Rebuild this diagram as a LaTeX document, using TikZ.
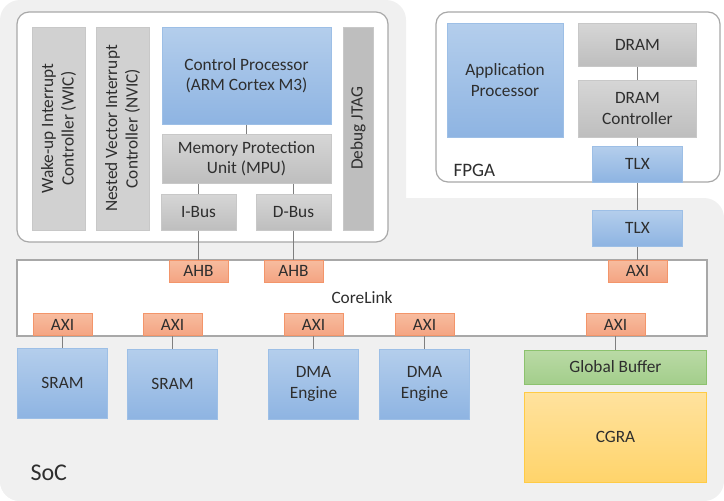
\documentclass[tikz,border=0pt]{standalone}
\usepackage{fontspec}
\setmainfont{Carlito}
\definecolor{socgrey}{HTML}{F0F0F0}
\definecolor{framegrey}{HTML}{A8A8A8}
\definecolor{linegrey}{HTML}{7F7F7F}
\definecolor{txt}{HTML}{2E2E2E}
\definecolor{bluetop}{HTML}{B4CEEC}
\definecolor{bluebot}{HTML}{8EB4E2}
\definecolor{blueline}{HTML}{9DBFE6}
\definecolor{greytop}{HTML}{D6D6D6}
\definecolor{greybot}{HTML}{BEBEBE}
\definecolor{greyline}{HTML}{C8C8C8}
\definecolor{orangetop}{HTML}{F7BC9F}
\definecolor{orangebot}{HTML}{F4A482}
\definecolor{orangeline}{HTML}{F3956A}
\definecolor{greentop}{HTML}{BADAA6}
\definecolor{greenbot}{HTML}{A3CE8B}
\definecolor{greenline}{HTML}{8CC26E}
\definecolor{yellowtop}{HTML}{FFE29E}
\definecolor{yellowbot}{HTML}{FFD46B}
\definecolor{yellowline}{HTML}{FFCB45}

\begin{document}
\begin{tikzpicture}[x=1pt,y=-1pt,
    box/.style={rectangle, line width=1pt, inner sep=2pt, align=center,
      text=txt, font=\fontsize{17.3}{20.5}\selectfont},
    bluebox/.style={box, draw=blueline, top color=bluetop, bottom color=bluebot},
    greybox/.style={box, draw=greyline, top color=greytop, bottom color=greybot},
    sidebox/.style={box, draw=greyline, fill=#1, rotate=90},
    busbox/.style={box, draw=orangeline, top color=orangetop, bottom color=orangebot,
      minimum width=59pt, minimum height=22pt, inner sep=0pt},
    frame/.style={rectangle, draw=framegrey, fill=white, line width=1.2pt, rounded corners=12pt},
    link/.style={draw=linegrey, line width=1.5pt}]
  \useasboundingbox (0,0) rectangle (724,501);
  % SoC area
  \fill[socgrey, rounded corners=20pt] (0,0) rectangle (406,501);
  \fill[socgrey, rounded corners=20pt] (0,198) rectangle (724,501);
  \node[anchor=base west, text=txt, font=\fontsize{24}{28}\selectfont] (soc) at (27,480) {SoC};

  % processor subsystem
  \node[frame, minimum width=371pt, minimum height=230pt] (cpu) at (202.5,127) {};
  \node[sidebox=greytop!80!greybot, minimum width=203pt, minimum height=53pt] (wic) at (58.5,128.5)
    {Wake-up Interrupt\\Controller (WIC)};
  \node[sidebox=greytop!80!greybot, minimum width=203pt, minimum height=53pt] (nvic) at (122.5,128.5)
    {Nested Vector Interrupt\\Controller (NVIC)};
  \node[sidebox=greybot, minimum width=203pt, minimum height=30pt] (jtag) at (358,128.5)
    {Debug JTAG};
  \node[bluebox, minimum width=169pt, minimum height=97pt] (cp) at (246.5,75.5)
    {Control Processor\\(ARM Cortex M3)};
  \node[greybox, minimum width=169pt, minimum height=49pt] (mpu) at (246.5,158.5)
    {Memory Protection\\Unit (MPU)};
  \node[greybox, minimum width=75pt, minimum height=36pt] (ibus) at (198.5,212) {I-Bus};
  \node[greybox, minimum width=75pt, minimum height=36pt] (dbus) at (293.5,212) {D-Bus};

  % FPGA
  \node[frame, minimum width=284pt, minimum height=170pt] (fpga) at (578,97) {};
  \node[anchor=base west, text=txt, font=\fontsize{19}{23}\selectfont] (fpgalabel) at (450,176) {FPGA};
  \node[bluebox, minimum width=116pt, minimum height=114pt] (app) at (505,80)
    {Application\\Processor};
  \node[greybox, minimum width=118pt, minimum height=43pt] (dram) at (637.5,44.5) {DRAM};
  \node[greybox, minimum width=118pt, minimum height=57pt] (dramctl) at (637.5,108.5)
    {DRAM\\Controller};
  \node[bluebox, minimum width=90pt, minimum height=36pt] (tlxa) at (637.5,164) {TLX};
  \node[bluebox, minimum width=90pt, minimum height=36pt] (tlxb) at (637.5,228) {TLX};

  % interconnect
  \node[rectangle, draw=framegrey, fill=white, line width=1.2pt, minimum width=690pt,
    minimum height=76pt, text=txt, font=\fontsize{17.3}{20.5}\selectfont] (corelink) at (362,298) {CoreLink};
  \node[busbox] (ahbi) at (198.5,271) {AHB};
  \node[busbox] (ahbd) at (293.5,271) {AHB};
  \node[busbox] (axitlx) at (637.5,271) {AXI};
  \node[busbox] (axia) at (62.5,324.5) {AXI};
  \node[busbox] (axib) at (172.5,324.5) {AXI};
  \node[busbox] (axic) at (313.5,324.5) {AXI};
  \node[busbox] (axid) at (424.5,324.5) {AXI};
  \node[busbox] (axie) at (615.5,324.5) {AXI};

  % memories and engines
  \node[bluebox, minimum width=90pt, minimum height=70pt] (srama) at (62.5,383) {SRAM};
  \node[bluebox, minimum width=90pt, minimum height=70pt] (sramb) at (172.5,384) {SRAM};
  \node[bluebox, minimum width=90pt, minimum height=70pt] (dmaa) at (313.5,384) {DMA\\Engine};
  \node[bluebox, minimum width=90pt, minimum height=70pt] (dmab) at (424.5,384) {DMA\\Engine};
  \node[box, draw=greenline, top color=greentop, bottom color=greenbot,
    minimum width=182pt, minimum height=34pt] (gbuf) at (615.5,367) {Global Buffer};
  \node[box, draw=yellowline, top color=yellowtop, bottom color=yellowbot,
    minimum width=182pt, minimum height=90pt] (cgra) at (615.5,437) {CGRA};

  % connections
  \draw[link] (cp) -- (mpu);
  \draw[link] (mpu.south -| ibus) -- (ibus);
  \draw[link] (mpu.south -| dbus) -- (dbus);
  \draw[link] (ibus) -- (ahbi);
  \draw[link] (dbus) -- (ahbd);
  \draw[link] (dram) -- (dramctl);
  \draw[link] (dramctl) -- (tlxa);
  \draw[link] (tlxa) -- (tlxb);
  \draw[link] (tlxb) -- (axitlx);
  \draw[link] (axia) -- (srama);
  \draw[link] (axib) -- (sramb);
  \draw[link] (axic) -- (dmaa);
  \draw[link] (axid) -- (dmab);
  \draw[link] (axie) -- (gbuf);
\end{tikzpicture}
\end{document}
